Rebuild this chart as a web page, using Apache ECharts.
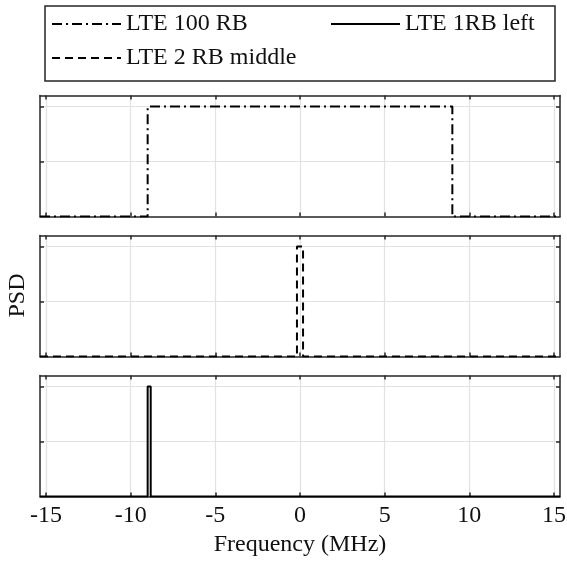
<!DOCTYPE html>
<html>
<head>
<meta charset="utf-8">
<script src="https://cdn.jsdelivr.net/npm/echarts@6/dist/echarts.min.js"></script>
<style>
  html, body { margin: 0; padding: 0; background: #fff; }
  #chart { width: 567px; height: 561px; }
</style>
</head>
<body>
<div id="chart"></div>
<script>
// Frequency span of the sampled spectrum (MHz)
const freqMin = -15.36;
const freqMax = 15.36;
const xTicks = [-15, -10, -5, 0, 5, 10, 15];
const yTicks = [0.5, 1];

// Series names
const names = ['LTE 100 RB', 'LTE 2 RB middle', 'LTE 1RB left'];

// Step outlines of each allocation (frequency in MHz, normalised PSD)
const freq100RB = [-15.36, -9, -9, 9, 9, 15.36];
const psd100RB = [0, 0, 1, 1, 0, 0];
const freq2RB = [-15.36, -0.18, -0.18, 0.18, 0.18, 15.36];
const psd2RB = [0, 0, 1, 1, 0, 0];
const freq1RB = [-15.36, -9, -9, -8.82, -8.82, 15.36];
const psd1RB = [0, 0, 1, 1, 0, 0];

const FONT = 'Liberation Serif';
const FS = 24;
const INK = '#262626';
const GRID_C = '#e2e2e2';

const zip = (xs, ys) => xs.map((x, i) => [x, ys[i]]);

const panelTops = [95.5, 235.5, 375.5];
const panelH = 121;

const grids = panelTops.map(t => ({
  left: 40, width: 520, top: t, height: panelH,
  containLabel: false, outerBoundsMode: 'none'
}));

const xAxes = [];
const yAxes = [];
panelTops.forEach((t, i) => {
  const last = i === panelTops.length - 1;
  xAxes.push({
    type: 'value', gridIndex: i, position: 'bottom',
    min: freqMin, max: freqMax,
    axisLine: { show: true, onZero: false, lineStyle: { color: INK, width: 1.5 } },
    axisTick: { show: true, inside: true, length: 4, customValues: xTicks, lineStyle: { color: INK, width: 1.5 } },
    axisLabel: { show: last, customValues: xTicks, color: '#111', fontFamily: FONT, fontSize: FS, margin: 7 },
    splitLine: { show: true, lineStyle: { color: GRID_C, width: 1.2 } },
    name: last ? 'Frequency (MHz)' : '',
    nameLocation: 'middle', nameGap: 36,
    nameTextStyle: { color: '#111', fontFamily: FONT, fontSize: FS }
  });
  xAxes.push({
    type: 'value', gridIndex: i, position: 'top',
    min: freqMin, max: freqMax,
    axisLine: { show: true, onZero: false, lineStyle: { color: INK, width: 1.5 } },
    axisTick: { show: true, inside: true, length: 4, customValues: xTicks, lineStyle: { color: INK, width: 1.5 } },
    axisLabel: { show: false },
    splitLine: { show: false }
  });
  yAxes.push({
    type: 'value', gridIndex: i, position: 'left',
    min: 0, max: 1.1,
    axisLine: { show: true, onZero: false, lineStyle: { color: INK, width: 1.5 } },
    axisTick: { show: true, inside: true, length: 4, customValues: yTicks, lineStyle: { color: INK, width: 1.5 } },
    axisLabel: { show: false },
    splitLine: { show: true, lineStyle: { color: GRID_C, width: 1.2 } }
  });
  yAxes.push({
    type: 'value', gridIndex: i, position: 'right',
    min: 0, max: 1.1,
    axisLine: { show: true, onZero: false, lineStyle: { color: INK, width: 1.5 } },
    axisTick: { show: true, inside: true, length: 4, customValues: yTicks, lineStyle: { color: INK, width: 1.5 } },
    axisLabel: { show: false },
    splitLine: { show: false }
  });
});

const lineSeries = (name, panel, data, type) => ({
  name, type: 'line', xAxisIndex: panel * 2, yAxisIndex: panel * 2,
  data, symbol: 'none', animation: false, z: 5,
  lineStyle: { color: '#000', width: 2, type },
  itemStyle: { color: '#000' }
});

const legendBase = {
  orient: 'horizontal', itemWidth: 69, itemHeight: 14, itemGap: 0,
  textStyle: { color: '#111', fontFamily: FONT, fontSize: FS },
  itemStyle: { opacity: 0 },
  selectedMode: false, padding: 0
};

const option = {
  backgroundColor: '#fff',
  animation: false,
  grid: grids,
  xAxis: xAxes,
  yAxis: yAxes,
  legend: [
    Object.assign({}, legendBase, { data: [names[0]], left: 51, top: 12 }),
    Object.assign({}, legendBase, { data: [names[2]], left: 330, top: 12 }),
    Object.assign({}, legendBase, { data: [names[1]], left: 51, top: 46 })
  ],
  graphic: [{
    type: 'rect', left: 42.5, top: 3.5, silent: true,
    shape: { width: 510, height: 75 },
    style: { fill: 'none', stroke: INK, lineWidth: 1.5 }
  }, {
    type: 'text', x: 18, y: 295.5, rotation: Math.PI / 2, silent: true,
    style: {
      text: 'PSD', fill: '#111', font: FS + 'px "' + FONT + '"',
      align: 'center', verticalAlign: 'middle'
    }
  }],
  series: [
    lineSeries(names[0], 0, zip(freq100RB, psd100RB), [10, 4, 2, 4]),
    lineSeries(names[1], 1, zip(freq2RB, psd2RB), [8, 5]),
    lineSeries(names[2], 2, zip(freq1RB, psd1RB), 'solid')
  ]
};

const chart = echarts.init(document.getElementById('chart'), null, { renderer: 'canvas' });
chart.setOption(option);
</script>
</body>
</html>
